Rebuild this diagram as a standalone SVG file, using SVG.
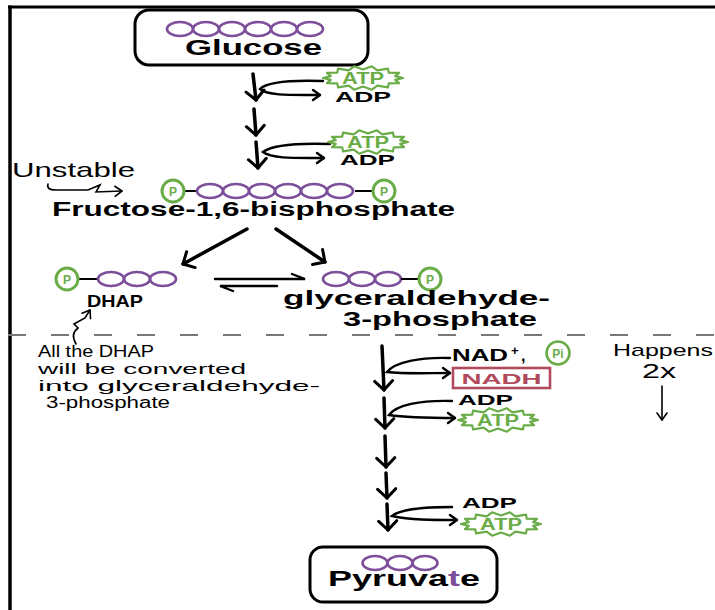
<svg xmlns="http://www.w3.org/2000/svg" xmlns:xlink="http://www.w3.org/1999/xlink" width="715" height="610" viewBox="0 0 715 610">
<style>
.frame{stroke:#000;fill:none}
.box{fill:#fff;stroke:#000;stroke-width:3}
.bead{fill:none;stroke:#7d4e9a;stroke-width:2.6}
.bond{stroke:#000;stroke-width:2}
.pc{fill:#fff;stroke:#6aac48;stroke-width:3}
.ptx{font-family:"Liberation Sans",Arial,sans-serif;font-weight:bold;font-size:12px;fill:#6aac48;text-anchor:middle}
.star{fill:#fff;stroke:#6aac48;stroke-width:2.2;stroke-linejoin:round}
.atp{font-family:"Liberation Sans",Arial,sans-serif;font-weight:bold;font-size:16px;fill:#6aac48;text-anchor:middle}
.lbl{font-family:"Liberation Sans",Arial,sans-serif;font-weight:bold;fill:#000}
.note{font-family:"Liberation Sans",Arial,sans-serif;fill:#000}
.main{stroke:#000;stroke-width:3.5;fill:none;stroke-linecap:round}
.side{stroke:#000;stroke-width:2.4;fill:none;stroke-linecap:round}
.thin{stroke:#000;stroke-width:1.6;fill:none;stroke-linecap:round}
</style>
<defs>
<marker id="v" viewBox="-12 -12 14 24" refX="0" refY="0" markerWidth="14" markerHeight="24" markerUnits="userSpaceOnUse" orient="auto">
<path d="M-9,-9 L0,0 L-9,9" fill="none" stroke="#000" stroke-width="3" stroke-linecap="round" stroke-linejoin="round"/>
</marker>
<marker id="v2" viewBox="-10 -8 12 16" refX="0" refY="0" markerWidth="12" markerHeight="16" markerUnits="userSpaceOnUse" orient="auto">
<path d="M-7,-5 L0,0 L-7,5" fill="none" stroke="#000" stroke-width="2.4" stroke-linecap="round" stroke-linejoin="round"/>
</marker>
<marker id="v3" viewBox="-10 -8 12 16" refX="0" refY="0" markerWidth="12" markerHeight="16" markerUnits="userSpaceOnUse" orient="auto">
<path d="M-7,-5 L0,0 L-7,5" fill="none" stroke="#000" stroke-width="1.6" stroke-linecap="round" stroke-linejoin="round"/>
</marker>
<polygon id="star" class="star" points="40,0 32.2,1.9 36,5.2 25.8,5.3 24.9,9.4 14.3,7.7 8.9,11.7 0,8.5 -8.9,11.7 -14.3,7.7 -24.9,9.4 -25.8,5.3 -36,5.2 -32.2,1.9 -40,0 -32.2,-1.9 -36,-5.2 -25.8,-5.3 -24.9,-9.4 -14.3,-7.7 -8.9,-11.7 0,-8.5 8.9,-11.7 14.3,-7.7 24.9,-9.4 25.8,-5.3 36,-5.2 32.2,-1.9"/>
</defs>

<rect width="715" height="610" fill="#fff"/>
<g id="frame">
<line class="frame" x1="8" y1="7" x2="715" y2="7" stroke-width="3"/>
<line class="frame" x1="10" y1="5.5" x2="10" y2="610" stroke-width="3.5"/>
</g>

<line id="divider" x1="8" y1="335" x2="715" y2="335" stroke="#777" stroke-width="2" stroke-dasharray="18 25"/>

<g id="connectors">
<path class="main" d="M253,74 L256,100" marker-end="url(#v)"/>
<path class="main" d="M254,109 L256,135" marker-end="url(#v)"/>
<path class="main" d="M256,142 L258,168" marker-end="url(#v)"/>
<path class="side" d="M323,81 C295,80 268,81 260,89 C268,96 292,95 320,95" marker-end="url(#v2)"/>
<path class="side" d="M330,144 C300,143 272,145 263,152 C272,159 296,158 324,158" marker-end="url(#v2)"/>
<path class="main" d="M247,229 L183,264" marker-end="url(#v)"/>
<path class="main" d="M276,229 L325,262" marker-end="url(#v)"/>
<path class="side" d="M215,279 L305,279 L292,274"/>
<path class="side" d="M277,286 L220,286 L233,291"/>
<path class="main" d="M382,346 L384,390" marker-end="url(#v)"/>
<path class="main" d="M384,398 L385,428" marker-end="url(#v)"/>
<path class="main" d="M385,436 L386,467" marker-end="url(#v)"/>
<path class="main" d="M386,473 L387,498" marker-end="url(#v)"/>
<path class="main" d="M387,504 L388,530" marker-end="url(#v)"/>
<path class="side" d="M450,358 C420,357 395,362 387,372 C405,374 428,373 450,373" marker-end="url(#v2)"/>
<path class="side" d="M452,401 C420,400 396,405 389,415 C408,418 430,418 455,418" marker-end="url(#v2)"/>
<path class="side" d="M452,507 C425,507 400,509 392,516 C410,520 432,520 457,520" marker-end="url(#v2)"/>
<path class="thin" d="M662,386 L662,420" marker-end="url(#v3)"/>
<path class="thin" d="M48,184 Q46,190 56,190 L88,190 L100,185 L96,192 L122,191" marker-end="url(#v3)"/>
<path class="thin" d="M76,344 Q70,334 78,328 L74,324 L85,318 L90,310" marker-end="url(#v3)"/>
</g>

<g id="glucose">
<rect class="box" x="135" y="10" width="233" height="55" rx="14"/>
<ellipse class="bead" cx="180" cy="29" rx="13" ry="7"/>
<ellipse class="bead" cx="206" cy="29" rx="13" ry="7"/>
<ellipse class="bead" cx="232" cy="29" rx="13" ry="7"/>
<ellipse class="bead" cx="258" cy="29" rx="13" ry="7"/>
<ellipse class="bead" cx="284" cy="29" rx="13" ry="7"/>
<ellipse class="bead" cx="310" cy="29" rx="13" ry="7"/>
<text class="lbl" x="185" y="55" font-size="22" textLength="137" lengthAdjust="spacingAndGlyphs">Glucose</text>
</g>

<g id="atp1"><use xlink:href="#star" x="363" y="78"/><text class="atp" x="363" y="84" textLength="42" lengthAdjust="spacingAndGlyphs">ATP</text></g>
<g id="adp1"><text class="lbl" x="335" y="102" font-size="15" textLength="56" lengthAdjust="spacingAndGlyphs">ADP</text></g>
<g id="atp2"><use xlink:href="#star" x="368" y="142"/><text class="atp" x="368" y="148" textLength="42" lengthAdjust="spacingAndGlyphs">ATP</text></g>
<g id="adp2"><text class="lbl" x="340" y="165" font-size="15" textLength="55" lengthAdjust="spacingAndGlyphs">ADP</text></g>

<g id="unstable-note">
<text class="note" x="12" y="177" font-size="21" textLength="123" lengthAdjust="spacingAndGlyphs">Unstable</text>
</g>

<g id="fructose">
<line class="bond" x1="184" y1="191" x2="197" y2="191"/>
<line class="bond" x1="355" y1="191" x2="372" y2="191"/>
<circle class="pc" cx="173" cy="191" r="11"/>
<text class="ptx" x="173" y="195.5">P</text>
<ellipse class="bead" cx="210" cy="191" rx="13" ry="7"/>
<ellipse class="bead" cx="236" cy="191" rx="13" ry="7"/>
<ellipse class="bead" cx="262" cy="191" rx="13" ry="7"/>
<ellipse class="bead" cx="288" cy="191" rx="13" ry="7"/>
<ellipse class="bead" cx="314" cy="191" rx="13" ry="7"/>
<ellipse class="bead" cx="340" cy="191" rx="13" ry="7"/>
<circle class="pc" cx="384" cy="191" r="11"/>
<text class="ptx" x="384" y="195.5">P</text>
<text class="lbl" x="52" y="216" font-size="20" textLength="403" lengthAdjust="spacingAndGlyphs">Fructose-1,6-bisphosphate</text>
</g>

<g id="dhap">
<line class="bond" x1="78" y1="279" x2="98" y2="279"/>
<circle class="pc" cx="67" cy="279" r="11"/>
<text class="ptx" x="67" y="283.5">P</text>
<ellipse class="bead" cx="111" cy="279" rx="13" ry="7"/>
<ellipse class="bead" cx="137" cy="279" rx="13" ry="7"/>
<ellipse class="bead" cx="163" cy="279" rx="13" ry="7"/>
<text class="lbl" x="87" y="307" font-size="17" textLength="56" lengthAdjust="spacingAndGlyphs">DHAP</text>
</g>

<g id="g3p">
<ellipse class="bead" cx="336" cy="279" rx="13" ry="7"/>
<ellipse class="bead" cx="362" cy="279" rx="13" ry="7"/>
<ellipse class="bead" cx="388" cy="279" rx="13" ry="7"/>
<line class="bond" x1="401" y1="279" x2="419" y2="279"/>
<circle class="pc" cx="430" cy="279" r="11"/>
<text class="ptx" x="430" y="283.5">P</text>
<text class="lbl" x="283" y="305" font-size="21" textLength="267" lengthAdjust="spacingAndGlyphs">glyceraldehyde-</text>
<text class="lbl" x="343" y="326" font-size="21" textLength="194" lengthAdjust="spacingAndGlyphs">3-phosphate</text>
</g>

<g id="dhap-note" class="note" font-size="14.5">
<text x="38" y="357" font-size="16" textLength="116" lengthAdjust="spacingAndGlyphs">All the DHAP</text>
<text x="38" y="374" textLength="208" lengthAdjust="spacingAndGlyphs">will be converted</text>
<text x="38" y="391" textLength="282" lengthAdjust="spacingAndGlyphs">into glyceraldehyde-</text>
<text x="46" y="408" font-size="16" textLength="124" lengthAdjust="spacingAndGlyphs">3-phosphate</text>
</g>

<g id="nad" class="lbl">
<text x="452" y="361" font-size="16" textLength="56" lengthAdjust="spacingAndGlyphs">NAD</text>
<text x="511" y="355" font-size="13">+</text>
<text x="521" y="361" font-size="16">,</text>
</g>
<g id="pi">
<circle cx="558" cy="353" r="11.5" fill="#fff" stroke="#6aac48" stroke-width="2.6"/>
<text class="ptx" x="558" y="357.5" font-size="12">Pi</text>
</g>
<g id="nadh">
<rect x="453" y="368" width="97" height="20" fill="#fff" stroke="#b04a5c" stroke-width="2.6"/>
<text x="501.5" y="384" font-family="'Liberation Sans',Arial,sans-serif" font-weight="bold" font-size="15" fill="#b04a5c" text-anchor="middle" textLength="80" lengthAdjust="spacingAndGlyphs">NADH</text>
</g>
<g id="happens" class="note">
<text x="613" y="356" font-size="17" textLength="100" lengthAdjust="spacingAndGlyphs">Happens</text>
<text x="642" y="378" font-size="20" textLength="34" lengthAdjust="spacingAndGlyphs">2x</text>
</g>

<g id="adp3"><text class="lbl" x="458" y="405" font-size="15" textLength="55" lengthAdjust="spacingAndGlyphs">ADP</text></g>
<g id="atp3"><use xlink:href="#star" x="498" y="420"/><text class="atp" x="498" y="426" textLength="42" lengthAdjust="spacingAndGlyphs">ATP</text></g>
<g id="adp4"><text class="lbl" x="462" y="508" font-size="15" textLength="55" lengthAdjust="spacingAndGlyphs">ADP</text></g>
<g id="atp4"><use xlink:href="#star" x="501" y="524"/><text class="atp" x="501" y="530" textLength="42" lengthAdjust="spacingAndGlyphs">ATP</text></g>

<g id="pyruvate">
<rect class="box" x="310" y="547" width="187" height="55" rx="13"/>
<ellipse class="bead" cx="375" cy="563" rx="12.5" ry="7"/>
<ellipse class="bead" cx="400" cy="563" rx="12.5" ry="7"/>
<ellipse class="bead" cx="425" cy="563" rx="12.5" ry="7"/>
<text class="lbl" x="328" y="586" font-size="22" textLength="152" lengthAdjust="spacingAndGlyphs">Pyruva<tspan fill="#7d4e9a">t</tspan>e</text>
</g>
</svg>
